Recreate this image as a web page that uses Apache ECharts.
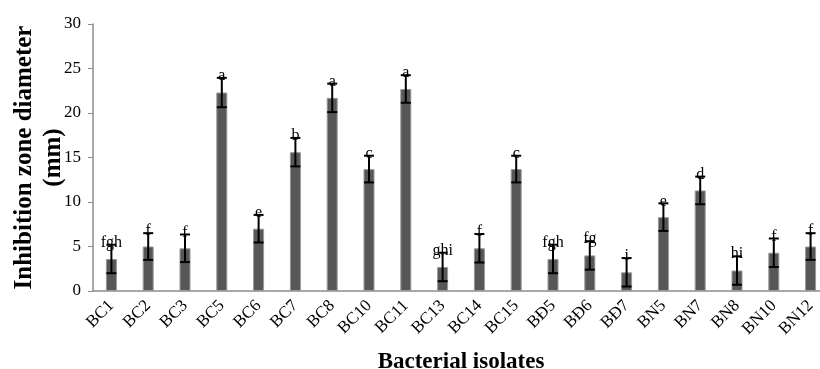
<!DOCTYPE html>
<html>
<head>
<meta charset="utf-8">
<script src="https://cdn.jsdelivr.net/npm/echarts@6/dist/echarts.min.js"></script>
<style>
  html, body { margin: 0; padding: 0; background: #fff; }
  #chart { width: 820px; height: 369px; }
</style>
</head>
<body>
<div id="chart"></div>
<script>
const isolates = ['BC1', 'BC2', 'BC3', 'BC5', 'BC6', 'BC7', 'BC8', 'BC10', 'BC11', 'BC13',
  'BC14', 'BC15', 'BĐ5', 'BĐ6', 'BĐ7', 'BN5', 'BN7', 'BN8', 'BN10', 'BN12'];
const zoneMeans = [3.6, 5.0, 4.8, 22.3, 7.0, 15.6, 21.7, 13.7, 22.7, 2.7,
  4.8, 13.7, 3.6, 4.0, 2.1, 8.3, 11.3, 2.3, 4.3, 5.0];
const zoneErrors = [1.6, 1.5, 1.55, 1.65, 1.55, 1.6, 1.6, 1.5, 1.55, 1.6,
  1.6, 1.5, 1.6, 1.6, 1.6, 1.55, 1.55, 1.6, 1.6, 1.5];
const groupLetters = ['fgh', 'f', 'f', 'a', 'e', 'b', 'a', 'c', 'a', 'ghi',
  'f', 'c', 'fgh', 'fg', 'i', 'e', 'd', 'hi', 'f', 'f'];
const yTicks = [0, 5, 10, 15, 20, 25, 30];

const serif = "'Liberation Serif', 'Times New Roman', serif";
const chart = echarts.init(document.getElementById('chart'));

// 误差线 + 字母标注
const errData = isolates.map((name, i) => [i, zoneMeans[i], zoneErrors[i], groupLetters[i]]);

const option = {
  animation: false,
  grid: { left: 93, right: -9, top: 24, bottom: 78, outerBoundsMode: 'none', containLabel: false },
  xAxis: {
    type: 'category',
    data: isolates,
    name: 'Bacterial isolates',
    nameLocation: 'middle',
    nameGap: 60,
    nameTextStyle: { fontFamily: serif, fontSize: 23, fontWeight: 'bold', color: '#000' },
    axisLine: { lineStyle: { color: '#8c8c8c', width: 1.5 } },
    axisTick: { show: false },
    axisLabel: { rotate: 45, interval: 0, margin: 12, fontFamily: serif, fontSize: 17, color: '#000' }
  },
  yAxis: {
    type: 'value',
    min: yTicks[0],
    max: yTicks[yTicks.length - 1],
    interval: 5,
    name: 'Inhibition zone diameter\n(mm)',
    nameLocation: 'middle',
    nameRotate: 90,
    nameGap: 25,
    nameMoveOverlap: false,
    nameTextStyle: { fontFamily: serif, fontSize: 25, fontWeight: 'bold', color: '#000', lineHeight: 29 },
    splitLine: { show: false },
    axisLine: { show: true, lineStyle: { color: '#8c8c8c', width: 1.5 } },
    axisTick: { show: true, length: 5, lineStyle: { color: '#8c8c8c' } },
    axisLabel: { margin: 12, fontFamily: serif, fontSize: 17, color: '#000' }
  },
  series: [
    {
      type: 'bar',
      data: zoneMeans,
      barWidth: 11,
      itemStyle: { color: '#575757', borderColor: '#9a9a9a', borderWidth: 1 }
    },
    {
      type: 'custom',
      data: errData,
      z: 10,
      renderItem: (params, api) => {
        const i = api.value(0);
        const m = api.value(1);
        const e = api.value(2);
        const top = api.coord([i, m + e]);
        const bot = api.coord([i, m - e]);
        const half = 5;
        const style = { stroke: '#000', lineWidth: 2 };
        return {
          type: 'group',
          children: [
            { type: 'line', shape: { x1: top[0], y1: top[1], x2: bot[0], y2: bot[1] }, style },
            { type: 'line', shape: { x1: top[0] - half, y1: top[1], x2: top[0] + half, y2: top[1] }, style },
            { type: 'line', shape: { x1: bot[0] - half, y1: bot[1], x2: bot[0] + half, y2: bot[1] }, style },
            {
              type: 'text',
              x: top[0],
              y: top[1] - 2,
              style: {
                text: groupLetters[params.dataIndex],
                fontFamily: serif,
                fontSize: 16,
                fill: '#000',
                align: 'center',
                verticalAlign: 'middle'
              }
            }
          ]
        };
      }
    }
  ]
};

chart.setOption(option);
</script>
</body>
</html>
